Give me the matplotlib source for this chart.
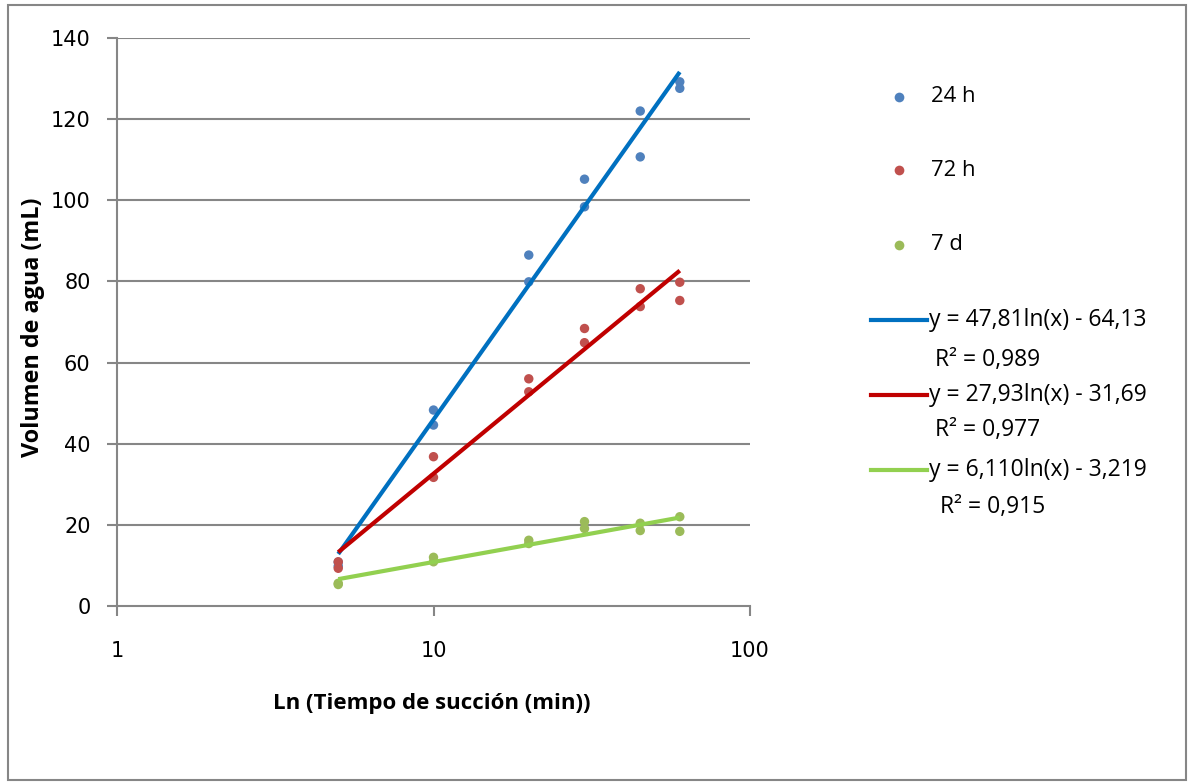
import numpy as np
import matplotlib
matplotlib.use("Agg")
import matplotlib.pyplot as plt
from matplotlib.lines import Line2D
from matplotlib.patches import Rectangle

# Data
tiempo = [5, 5, 10, 10, 20, 20, 30, 30, 45, 45, 60, 60]
vol_24h = [10.8, 9.8, 48.3, 44.6, 86.5, 79.9, 105.2, 98.4, 122.0, 110.7, 129.2, 127.6]
vol_72h = [10.9, 9.3, 36.8, 31.7, 56.0, 52.8, 68.4, 64.9, 78.2, 73.8, 79.8, 75.3]
vol_7d = [5.6, 5.3, 12.0, 10.9, 16.2, 15.4, 20.8, 19.1, 20.4, 18.6, 22.0, 18.4]
series_names = ["24 h", "72 h", "7 d"]
# trendline coefficients (a*ln(x) + b)
trend_a = [47.81, 27.93, 6.110]
trend_b = [-64.13, -31.69, -3.219]
trend_labels = ["y = 47,81ln(x) - 64,13", "y = 27,93ln(x) - 31,69", "y = 6,110ln(x) - 3,219"]
r2_labels = ["R² = 0,989", "R² = 0,977", "R² = 0,915"]
yticks = [0, 20, 40, 60, 80, 100, 120, 140]
xticks = [1, 10, 100]

marker_colors = ["#4F81BD", "#C0504D", "#9BBB59"]
line_colors = ["#0070C0", "#C00000", "#92D050"]
grid_c = "#868686"

W, H = 1189, 784
fig = plt.figure(figsize=(W / 100, H / 100), dpi=100)
fig.patch.set_facecolor("white")
fig.add_artist(Rectangle((8 / W, 1 - 780 / H), (1186 - 8) / W, (780 - 5) / H,
                         transform=fig.transFigure, fill=False, edgecolor=grid_c, lw=1.5))

L, R, T, B = 117, 750, 38, 606
ax = fig.add_axes([L / W, 1 - B / H, (R - L) / W, (B - T) / H])
ax.set_xscale("log")
ax.set_xlim(1, 100)
ax.set_ylim(0, 140)
ax.set_yticks(yticks)
ax.set_xticks(xticks)
ax.set_xticklabels([str(t) for t in xticks])
ax.xaxis.set_minor_locator(matplotlib.ticker.NullLocator())
for s in ["top", "right"]:
    ax.spines[s].set_visible(False)
for s in ["left", "bottom"]:
    ax.spines[s].set_color(grid_c)
    ax.spines[s].set_linewidth(1.5)
ax.tick_params(axis="both", colors=grid_c, length=7, width=1.5, labelcolor="black",
               labelsize=15)
ax.tick_params(axis="x", pad=18)
ax.tick_params(axis="y", pad=12)
for y in yticks[1:]:
    ax.axhline(y, color=grid_c, lw=1.5, zorder=0)

data = [vol_24h, vol_72h, vol_7d]
for vals, c in zip(data, marker_colors):
    ax.scatter(tiempo, vals, s=46, color=c, zorder=3, edgecolors="none")

xt = np.geomspace(min(tiempo), max(tiempo), 100)
for a, b, c in zip(trend_a, trend_b, line_colors):
    ax.plot(xt, a * np.log(xt) + b, color=c, lw=3, zorder=4, solid_capstyle="butt")

lab_font = "Open Sans"
ax.set_ylabel("Volumen de agua (mL)", fontsize=16.8, fontweight="bold", family=lab_font)
ax.set_xlabel("Ln (Tiempo de succión (min))", fontsize=16, fontweight="bold", family=lab_font)
ax.xaxis.set_label_coords((432 - L) / (R - L), -(703 - B) / (B - T))
ax.xaxis.label.set_va("center")
ax.yaxis.set_label_coords((33 - L) / (R - L), (B - 327) / (B - T))
ax.yaxis.label.set_va("center")

# Legend (manual)
def fx(px):
    return px / W

def fy(py):
    return 1 - py / H

for name, c, py in zip(series_names, marker_colors, [97, 170, 245]):
    fig.add_artist(Line2D([fx(899)], [fy(py)], marker="o", color=c, markersize=7,
                          markeredgewidth=0, transform=fig.transFigure))
    fig.text(fx(931), fy(py), name, fontsize=15.8, family=lab_font, va="center", ha="left")

for lab, r2, c, py, ry, rx in zip(trend_labels, r2_labels, line_colors,
                                   [320, 395, 470], [360, 430, 507], [935, 935, 940]):
    fig.add_artist(Line2D([fx(871), fx(927)], [fy(py), fy(py)], color=c, lw=3,
                          transform=fig.transFigure))
    fig.text(fx(929), fy(py), lab, fontsize=16.5, family=lab_font, va="center", ha="left")
    fig.text(fx(rx), fy(ry), r2, fontsize=16.5, family=lab_font, va="center", ha="left")

fig.savefig("out.png", dpi=100, facecolor="white")
